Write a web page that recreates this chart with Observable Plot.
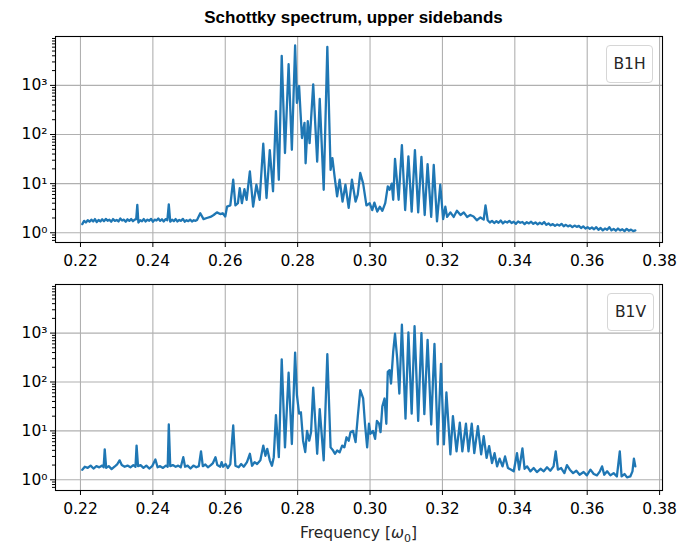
<!DOCTYPE html>
<html>
<head>
<meta charset="utf-8">
<script src="https://cdn.jsdelivr.net/npm/d3@7"></script>
<script src="https://cdn.jsdelivr.net/npm/@observablehq/plot@0.6"></script>
<style>
  html, body { margin: 0; padding: 0; background: #fff; }
  #wrap { position: relative; width: 679px; height: 545px; background: #fff; overflow: hidden; }
  #wrap svg { position: absolute; left: 0; }
  .title { position: absolute; left: 50px; width: 607px; top: 8px; text-align: center;
           font-family: "Liberation Sans", Arial, sans-serif; font-weight: bold; font-size: 17px; color: #000; }
  .legend { position: absolute; width: 45px; height: 36px; border: 1px solid #d6d6d6; border-radius: 4px;
            background: rgba(255,255,255,0.85); font-family: "DejaVu Sans", sans-serif; font-size: 15.5px;
            color: #262626; display: flex; align-items: center; justify-content: center; }
  .xlabel { position: absolute; left: 55px; width: 607px; top: 524px; text-align: center;
            font-family: "DejaVu Sans", sans-serif; font-size: 15.5px; color: #262626; }
</style>
</head>
<body>
<div id="wrap"></div>
<script>
// ---------- data ----------
const titleText = "Schottky spectrum, upper sidebands";
const seriesNames = ["B1H", "B1V"];
const xTicks = [0.22, 0.24, 0.26, 0.28, 0.30, 0.32, 0.34, 0.36, 0.38];
const yMajorTicks = [1, 10, 100, 1000];

// Panel 1: B1H
const freqH = [
  0.2205,0.2210,0.2215,0.2220,0.2225,0.2230,0.2235,0.2240,0.2245,0.2250,
  0.2255,0.2260,0.2265,0.2270,0.2275,0.2280,0.2285,0.2290,0.2295,0.2300,
  0.2305,0.2310,0.2315,0.2320,0.2325,0.2330,0.2335,0.2340,0.2345,0.2350,
  0.2354,0.2357,0.2360,0.2365,0.2370,0.2375,0.2380,0.2385,0.2390,0.2395,
  0.2400,0.2405,0.2410,0.2415,0.2420,0.2425,0.2430,0.2435,0.2440,0.2444,
  0.2448,0.2453,0.2458,0.2463,0.2468,0.2473,0.2478,0.2483,0.2488,0.2493,
  0.2498,0.2503,0.2508,0.2513,0.2518,0.2522,0.2531,0.2540,0.2549,0.2559,
  0.2568,0.2577,0.2586,0.2593,0.2600,0.2605,0.2614,0.2622,0.2628,0.2635,
  0.2640,0.2646,0.2653,0.2659,0.2668,0.2677,0.2686,0.2695,0.2705,0.2714,
  0.2723,0.2732,0.2740,0.2748,0.2756,0.2765,0.2775,0.2784,0.2793,0.2798,
  0.2804,0.2808,0.2812,0.2819,0.2822,0.2828,0.2833,0.2843,0.2854,0.2861,
  0.2872,0.2882,0.2891,0.2896,0.2902,0.2909,0.2916,0.2924,0.2932,0.2941,
  0.2950,0.2960,0.2966,0.2973,0.2981,0.2990,0.2999,0.3006,0.3012,0.3020,
  0.3027,0.3034,0.3042,0.3049,0.3054,0.3060,0.3064,0.3069,0.3079,0.3088,
  0.3097,0.3106,0.3115,0.3124,0.3133,0.3142,0.3151,0.3159,0.3169,0.3176,
  0.3185,0.3194,0.3202,0.3208,0.3213,0.3222,0.3231,0.3240,0.3250,0.3259,
  0.3268,0.3277,0.3286,0.3295,0.3305,0.3314,0.3319,0.3325,0.3331,0.3337,
  0.3343,0.3349,0.3355,0.3361,0.3367,0.3373,0.3379,0.3385,0.3391,0.3397,
  0.3403,0.3409,0.3415,0.3421,0.3427,0.3433,0.3439,0.3445,0.3451,0.3457,
  0.3463,0.3469,0.3475,0.3481,0.3487,0.3493,0.3499,0.3505,0.3511,0.3517,
  0.3523,0.3529,0.3535,0.3541,0.3547,0.3553,0.3559,0.3565,0.3571,0.3577,
  0.3583,0.3589,0.3595,0.3601,0.3607,0.3613,0.3619,0.3625,0.3631,0.3637,
  0.3643,0.3649,0.3655,0.3661,0.3667,0.3673,0.3679,0.3685,0.3691,0.3697,
  0.3703,0.3709,0.3715,0.3721,0.3727,0.3733
];
const ampH = [
  1.5,1.75,1.62,1.8,1.68,1.85,1.7,1.9,1.65,1.82,
  1.7,1.88,1.72,1.92,1.75,1.85,1.68,1.9,1.75,1.82,
  1.7,1.95,1.78,1.85,1.68,1.88,1.75,1.9,1.72,1.85,
  1.9,3.7,1.62,1.8,1.72,1.9,1.7,1.85,1.75,1.92,
  1.68,1.85,1.78,1.95,1.75,1.88,1.7,1.9,1.8,3.8,
  1.68,1.85,1.72,1.9,1.7,1.82,1.75,1.92,1.68,1.8,
  1.72,1.85,1.7,1.8,1.75,1.82,2.5,1.9,2.0,2.1,
  2.3,2.6,2.4,2.5,2.15,3.4,3.6,12,3.6,4.0,
  8.1,4.0,7.7,4.7,17.8,3.4,9.5,4.7,65,5.1,
  48,7,300,12,4000,42,2700,49,6500,440,
  970,275,85,173,26,186,67,1050,28,530,
  7.5,6100,19,33,14,5.5,12,4.3,9.5,3.2,
  12,4.3,6,16.5,10,3.6,4.0,2.9,4.1,2.7,
  3.4,2.8,4.0,8.8,7.5,10,4.7,32,4.7,61,
  2.9,36,2.7,48,2.6,35,2.3,25,2.1,24,
  1.7,9.5,1.9,3.4,2.1,2.6,2.1,2.8,2.3,2.6,
  2.1,2.3,2.15,1.8,2.05,1.85,3.6,1.8,1.62,1.75,
  1.58,1.72,1.6,1.78,1.55,1.7,1.62,1.75,1.58,1.68,
  1.52,1.7,1.6,1.66,1.5,1.64,1.55,1.68,1.52,1.62,
  1.48,1.6,1.5,1.66,1.45,1.55,1.42,1.5,1.38,1.48,
  1.4,1.52,1.36,1.45,1.35,1.42,1.3,1.4,1.32,1.38,
  1.25,1.35,1.22,1.3,1.2,1.28,1.18,1.3,1.15,1.25,
  1.12,1.22,1.15,1.3,1.12,1.2,1.1,1.22,1.12,1.18,
  1.08,1.2,1.1,1.16,1.08,1.12
];

// Panel 2: B1V
const freqV = [
  0.2205,0.2212,0.2220,0.2228,0.2236,0.2244,0.2252,0.2260,0.2264,0.2267,
  0.2271,0.2278,0.2286,0.2294,0.2302,0.2308,0.2314,0.2322,0.2330,0.2338,
  0.2346,0.2352,0.2355,0.2359,0.2366,0.2374,0.2382,0.2390,0.2398,0.2407,
  0.2413,0.2420,0.2428,0.2436,0.2441,0.2444,0.2448,0.2455,0.2463,0.2470,
  0.2477,0.2484,0.2489,0.2496,0.2504,0.2512,0.2520,0.2527,0.2533,0.2538,
  0.2545,0.2552,0.2560,0.2566,0.2573,0.2578,0.2586,0.2590,0.2594,0.2601,
  0.2607,0.2614,0.2622,0.2628,0.2637,0.2644,0.2651,0.2660,0.2668,0.2674,
  0.2681,0.2688,0.2697,0.2705,0.2711,0.2716,0.2723,0.2729,0.2734,0.2740,
  0.2748,0.2756,0.2765,0.2775,0.2784,0.2793,0.2798,0.2804,0.2809,0.2815,
  0.2821,0.2826,0.2832,0.2837,0.2843,0.2854,0.2861,0.2872,0.2882,0.2891,
  0.2898,0.2903,0.2909,0.2916,0.2923,0.2929,0.2935,0.2941,0.2946,0.2953,
  0.2960,0.2966,0.2973,0.2981,0.2986,0.2992,0.2997,0.3001,0.3008,0.3014,
  0.3019,0.3025,0.3029,0.3034,0.3040,0.3045,0.3049,0.3054,0.3058,0.3064,
  0.3069,0.3075,0.3081,0.3088,0.3098,0.3106,0.3115,0.3123,0.3133,0.3142,
  0.3150,0.3159,0.3169,0.3178,0.3187,0.3196,0.3204,0.3211,0.3222,0.3229,
  0.3239,0.3248,0.3255,0.3265,0.3272,0.3281,0.3288,0.3298,0.3307,0.3314,
  0.3322,0.3329,0.3337,0.3344,0.3351,0.3358,0.3366,0.3373,0.3381,0.3390,
  0.3397,0.3406,0.3412,0.3421,0.3427,0.3434,0.3443,0.3452,0.3461,0.3471,
  0.3480,0.3489,0.3498,0.3507,0.3513,0.3519,0.3528,0.3537,0.3544,0.3552,
  0.3561,0.3570,0.3579,0.3590,0.3599,0.3609,0.3618,0.3627,0.3635,0.3641,
  0.3647,0.3655,0.3664,0.3673,0.3682,0.3690,0.3695,0.3703,0.3710,0.3719,
  0.3725,0.3729,0.3733
];
const ampV = [
  1.6,1.85,1.75,1.95,1.7,1.9,1.8,1.95,1.8,4.2,
  1.75,1.9,1.65,1.85,2.1,2.5,2.0,1.85,1.95,1.8,
  2.0,1.85,5.0,1.9,2.0,1.75,1.95,1.7,1.9,2.6,
  1.8,1.9,1.75,1.95,1.85,13.5,1.9,2.0,1.85,1.95,
  1.8,2.9,1.85,1.95,1.7,1.95,1.8,1.9,3.8,1.9,
  2.05,1.8,2.0,2.2,2.9,2.0,1.85,2.3,1.85,2.1,
  1.74,2.1,12.9,1.94,1.8,2.1,1.85,2.3,3.4,1.94,
  2.3,2.1,2.5,5.0,3.1,4.3,2.5,1.94,2.9,21,
  2.9,290,4.6,155,5.4,400,54,22.5,24,6.3,
  3.7,10,6.3,9.4,77,3.4,28,2.5,370,4.6,
  3.96,3.4,3.96,3.65,5.0,4.6,7.4,6.3,9.4,10,
  5.9,19,68,46,14,4.6,14,8.7,10,6.9,
  16,14,9.4,32,46,14,162,175,93,420,
  970,305,58,1480,17.8,1030,22.5,1380,16,1000,
  22,730,13.5,600,5.3,235,5.3,61,3.3,20,
  3.8,14.7,3.8,14,3.8,14,3.5,12.5,3.3,7.8,
  2.8,4.9,2.2,3.5,1.88,2.7,1.88,3.0,1.74,1.6,
  1.49,3.5,1.61,4.4,1.68,1.88,1.49,1.74,1.44,1.68,
  1.49,1.8,1.53,1.88,3.8,1.61,1.74,1.37,2.0,1.61,
  1.37,1.53,1.27,1.44,1.23,1.61,1.31,1.23,1.49,1.88,
  1.27,1.49,1.23,1.37,1.17,3.8,1.17,1.31,1.12,1.17,
  1.49,2.7,1.88
];

// ---------- drawing ----------
const supDigits = {"0":"⁰","1":"¹","2":"²","3":"³","4":"⁴"};
const fmtPow = d => "10" + supDigits[String(Math.round(Math.log10(d)))];
const minorTicks = [];
for (let e = -1; e <= 3; e++) for (let m = 2; m <= 9; m++) minorTicks.push(m * Math.pow(10, e));

function panel(freq, amp, opts) {
  const data = freq.map((f, i) => ({f, a: amp[i]}));
  return Plot.plot({
    width: 679,
    height: opts.height,
    marginLeft: 55,
    marginRight: 17,
    marginTop: opts.marginTop,
    marginBottom: opts.marginBottom,
    style: {fontFamily: "DejaVu Sans, sans-serif", fontSize: "15.5px", color: "#000", background: "transparent", overflow: "visible"},
    x: {type: "linear", domain: [0.2131, 0.3808]},
    y: {type: "log", domain: opts.yDomain},
    marks: [
      Plot.gridX(xTicks, {stroke: "#b0b0b0", strokeOpacity: 1, strokeWidth: 1.1}),
      Plot.gridY(yMajorTicks, {stroke: "#b0b0b0", strokeOpacity: 1, strokeWidth: 1.1}),
      Plot.line(data, {x: "f", y: "a", stroke: "#1f77b4", strokeWidth: 2.3, strokeLinejoin: "round"}),
      Plot.frame({stroke: "#000", strokeWidth: 1.1}),
      Plot.axisX({ticks: xTicks, tickFormat: d3.format(".2f"), tickSize: 5, tickPadding: 7, label: null}),
      Plot.axisY({ticks: yMajorTicks, tickFormat: fmtPow, tickSize: 5, tickPadding: 3, label: null}),
      Plot.axisY({ticks: minorTicks.filter(t => t > opts.yDomain[0] && t < opts.yDomain[1]), tickFormat: () => "", tickSize: 3, label: null})
    ]
  });
}

const wrap = document.getElementById("wrap");

const title = document.createElement("div");
title.className = "title";
title.textContent = titleText;
wrap.appendChild(title);

const p1 = panel(freqH, ampH, {height: 270, marginTop: 36, marginBottom: 28, yDomain: [0.634, 9880]});
p1.style.top = "0px";
wrap.appendChild(p1);

const p2 = panel(freqV, ampV, {height: 275, marginTop: 14, marginBottom: 55, yDomain: [0.604, 9860]});
p2.style.top = "270px";
wrap.appendChild(p2);

const lg1 = document.createElement("div");
lg1.className = "legend";
lg1.style.left = "606px"; lg1.style.top = "45px";
lg1.textContent = seriesNames[0];
wrap.appendChild(lg1);

const lg2 = document.createElement("div");
lg2.className = "legend";
lg2.style.left = "607px"; lg2.style.top = "293px";
lg2.textContent = seriesNames[1];
wrap.appendChild(lg2);

const xl = document.createElement("div");
xl.className = "xlabel";
xl.innerHTML = "Frequency [<i>ω</i><sub style=\"font-size:11px\">0</sub>]";
wrap.appendChild(xl);
</script>
</body>
</html>
